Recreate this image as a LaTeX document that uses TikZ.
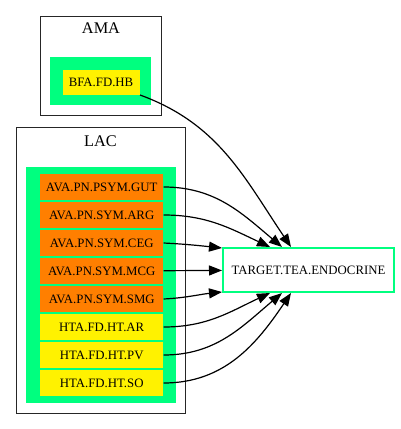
\documentclass[tikz,border=0pt]{standalone}
\usepackage{fontspec}
\setmainfont{Liberation Serif}
\usepackage{xcolor}
\usetikzlibrary{arrows.meta, positioning}

\definecolor{springgreen}{RGB}{0,255,127}
\definecolor{gvorange}{RGB}{255,127,0}

\begin{document}
\begin{tikzpicture}[
        x=1pt, y=-1pt,
        node distance=1pt,
        cluster/.style={draw=black!85, line width=1pt},
        groupbg/.style={fill=springgreen},
        clusterlabel/.style={font=\fontsize{16.3}{18}\selectfont},
        item/.style={rectangle, draw=springgreen, line width=0.8pt, outer sep=0pt, inner sep=0pt,
                    minimum width=124pt, minimum height=27pt, font=\fontsize{12.8}{14}\selectfont},
        avabox/.style={item, fill=gvorange},
        htabox/.style={item, fill=yellow},
        targetbox/.style={rectangle, draw=springgreen, line width=2pt, minimum width=171pt,
                    minimum height=44pt, font=\fontsize{12.8}{14}\selectfont},
        arrow/.style={-{Triangle[length=13pt, width=10pt]}, line width=1.2pt}
    ]
        \useasboundingbox (0,0) rectangle (400,429);

        % clusters
        \draw[cluster] (40,16) rectangle (161,115);
        \fill[groupbg] (50,57) rectangle (151,105);
        \node[clusterlabel] (amalabel) at (101,28.5) {AMA};

        \draw[cluster] (16,127) rectangle (185,413);
        \fill[groupbg] (26,167) rectangle (176,403);
        \node[clusterlabel] (laclabel) at (100.5,141.5) {LAC};

        % nodes
        \node[htabox, minimum width=78pt, minimum height=26pt] (bfa) at (101,82) {BFA.FD.HB};

        \node[avabox] (gut) at (101.7,187) {AVA.PN.PSYM.GUT};
        \node[avabox, below=of gut] (arg) {AVA.PN.SYM.ARG};
        \node[avabox, below=of arg] (ceg) {AVA.PN.SYM.CEG};
        \node[avabox, below=of ceg] (mcg) {AVA.PN.SYM.MCG};
        \node[avabox, below=of mcg] (smg) {AVA.PN.SYM.SMG};
        \node[htabox, below=of smg] (ar) {HTA.FD.HT.AR};
        \node[htabox, below=of ar] (pv) {HTA.FD.HT.PV};
        \node[htabox, below=of pv] (so) {HTA.FD.HT.SO};

        \node[targetbox] (tgt) at (308.5,270) {TARGET.TEA.ENDOCRINE};

        % edges
        \draw[arrow] (bfa.south east) to[out=-20, in=124] ([xshift=69pt]tgt.north west);
        \draw[arrow] (gut.east) to[out=0, in=140] ([xshift=60pt]tgt.north west);
        \draw[arrow] (arg.east) to[out=0, in=155] ([xshift=48pt]tgt.north west);
        \draw[arrow] (ceg.east) to[out=-3, in=174] ([yshift=22pt]tgt.west);
        \draw[arrow] (mcg) -- (tgt);
        \draw[arrow] (smg.east) to[out=3, in=186] ([yshift=-22pt]tgt.west);
        \draw[arrow] (ar.east) to[out=0, in=205] ([xshift=48pt]tgt.south west);
        \draw[arrow] (pv.east) to[out=0, in=220] ([xshift=60pt]tgt.south west);
        \draw[arrow] (so.east) to[out=0, in=236] ([xshift=69pt]tgt.south west);
    \end{tikzpicture}
\end{document}
